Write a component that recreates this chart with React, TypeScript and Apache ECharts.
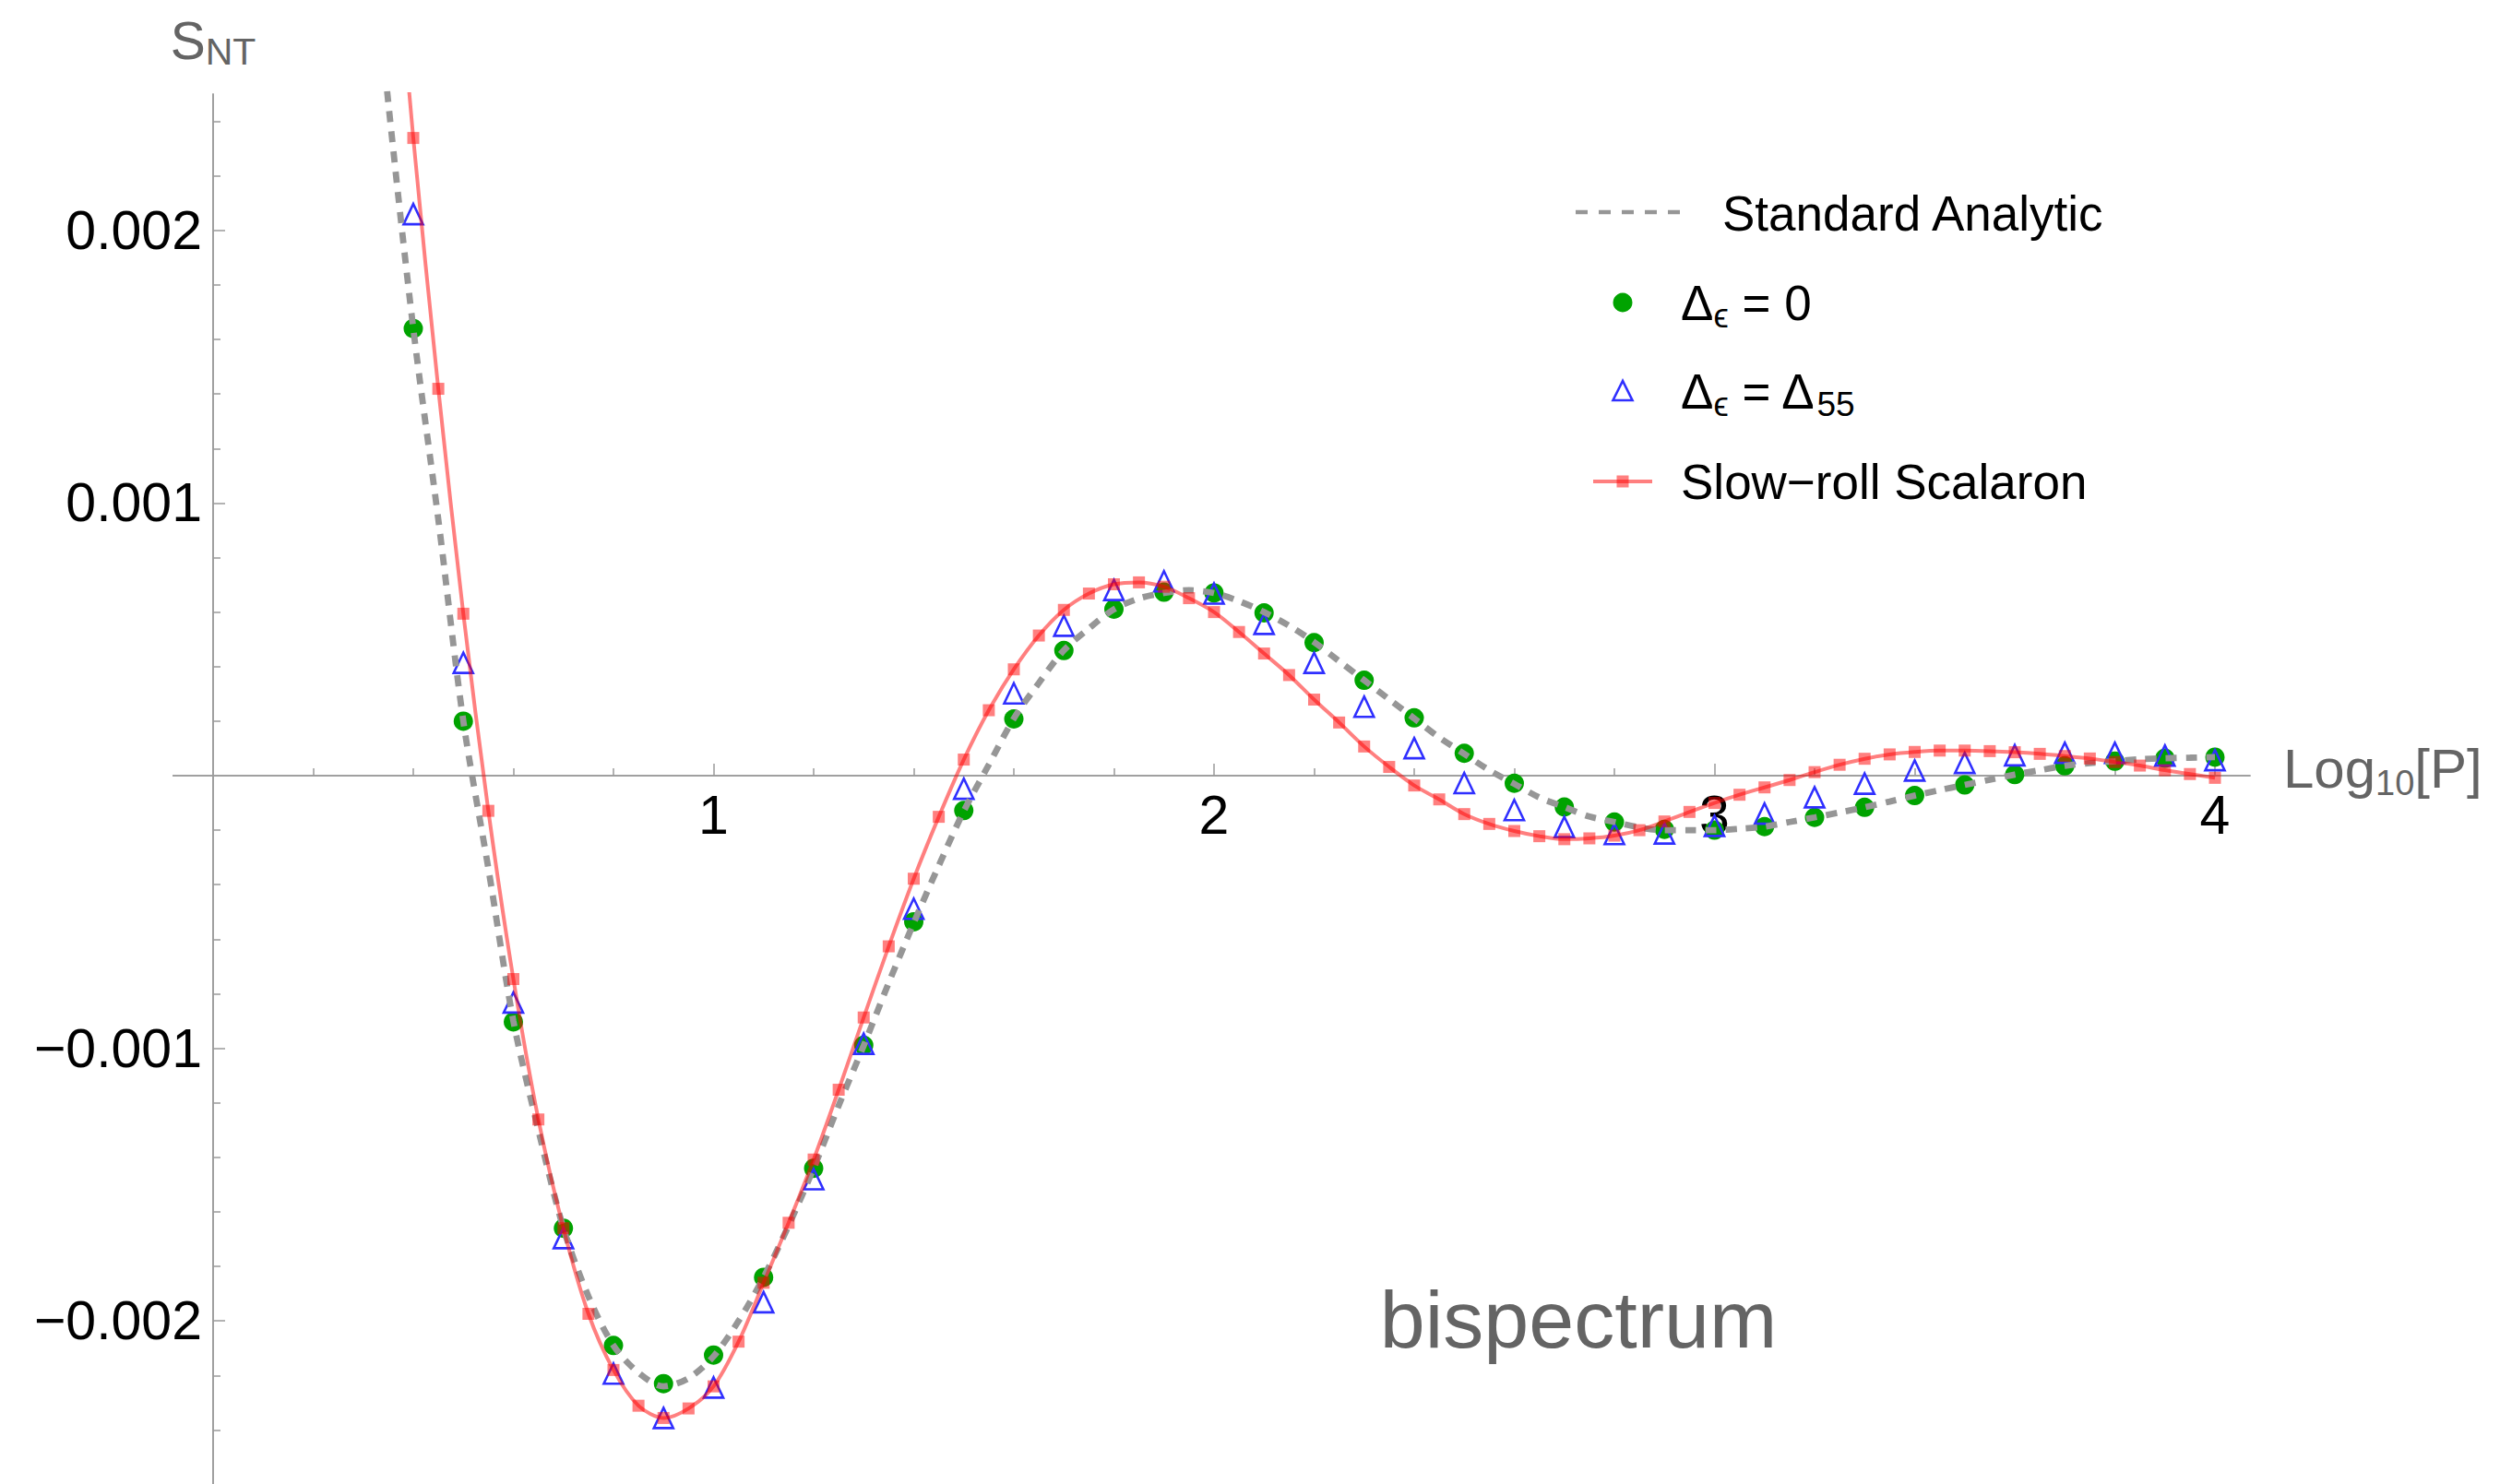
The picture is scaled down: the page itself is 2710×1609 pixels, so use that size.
import React, { useEffect, useRef } from "react";
import * as echarts from "echarts";

// ---------- data ----------
const X_POINTS = [
  0.4, 0.5, 0.6, 0.7, 0.8, 0.9, 1.0, 1.1, 1.2, 1.3, 1.4, 1.5, 1.6, 1.7, 1.8, 1.9, 2.0, 2.1, 2.2,
  2.3, 2.4, 2.5, 2.6, 2.7, 2.8, 2.9, 3.0, 3.1, 3.2, 3.3, 3.4, 3.5, 3.6, 3.7, 3.8, 3.9, 4.0,
];
const GREEN_VALUES = [
  0.00164, 0.0002, -0.000903, -0.00166, -0.00209, -0.00223, -0.002125, -0.00184, -0.00144,
  -0.000989, -0.000536, -0.000128, 0.000208, 0.000459, 0.000611, 0.000673, 0.00067, 0.000597,
  0.000488, 0.00035, 0.000212, 0.000082, -0.000028, -0.000115, -0.00017, -0.000197, -0.0002,
  -0.000187, -0.000153, -0.000116, -0.000073, -0.000034, 0.000004, 0.000036, 0.000053, 0.000064,
  0.000068,
];
const BLUE_VALUES = [
  0.00206, 0.000414, -0.000832, -0.001696, -0.002193, -0.002356, -0.002244, -0.001931, -0.00148,
  -0.000983, -0.000488, -0.000048, 0.000302, 0.00055, 0.000681, 0.000713, 0.000668, 0.000557,
  0.000414, 0.000253, 0.000101, -0.000027, -0.000126, -0.000188, -0.000214, -0.000212, -0.000184,
  -0.000139, -0.000079, -0.000029, 0.000019, 0.000047, 0.000075, 0.000084, 0.000084, 0.000074,
  0.000057,
];
const X_CURVE = [
  0.3, 0.35, 0.4, 0.45, 0.5, 0.55, 0.6, 0.65, 0.7, 0.75, 0.8, 0.85, 0.9, 0.95, 1.0, 1.05, 1.1,
  1.15, 1.2, 1.25, 1.3, 1.35, 1.4, 1.45, 1.5, 1.55, 1.6, 1.65, 1.7, 1.75, 1.8, 1.85, 1.9, 1.95,
  2.0, 2.05, 2.1, 2.15, 2.2, 2.25, 2.3, 2.35, 2.4, 2.45, 2.5, 2.55, 2.6, 2.65, 2.7, 2.75, 2.8,
  2.85, 2.9, 2.95, 3.0, 3.05, 3.1, 3.15, 3.2, 3.25, 3.3, 3.35, 3.4, 3.45, 3.5, 3.55, 3.6, 3.65,
  3.7, 3.75, 3.8, 3.85, 3.9, 3.95, 4.0,
];
const RED_VALUES = [
  0.0046, 0.0034, 0.002339, 0.001419, 0.000594, -0.000129, -0.000746, -0.001261, -0.00166,
  -0.001974, -0.00218, -0.002311, -0.002356, -0.002321, -0.00224, -0.002076, -0.00186, -0.00164,
  -0.001408, -0.001152, -0.000887, -0.000626, -0.000378, -0.000151, 0.000059, 0.00024, 0.00039,
  0.000514, 0.000608, 0.000668, 0.000702, 0.000709, 0.000693, 0.000651, 0.0006, 0.000527,
  0.000448, 0.000369, 0.000279, 0.000195, 0.000107, 0.000032, -0.000036, -0.000087, -0.000141,
  -0.000177, -0.000203, -0.000222, -0.000233, -0.00023, -0.00022, -0.0002, -0.000168, -0.000133,
  -0.0001, -0.00007, -0.000043, -0.000016, 0.000013, 0.00004, 0.000062, 0.000078, 0.000087,
  0.000092, 0.000092, 0.00009, 0.000086, 0.00008, 0.000072, 0.000063, 0.00005, 0.000037, 0.00002,
  0.000006, -0.000008,
];
const ANALYTIC_VALUES = [
  0.0034, 0.00247, 0.00164, 0.00094, 0.0002, -0.00034, -0.0009, -0.0013, -0.00166, -0.00191,
  -0.00209, -0.00219, -0.00224, -0.00221, -0.00213, -0.002, -0.00184, -0.00165, -0.00144,
  -0.00121, -0.00099, -0.00076, -0.00054, -0.00033, -0.00013, 0.00004, 0.00021, 0.00034, 0.00046,
  0.00054, 0.00061, 0.00065, 0.00067, 0.00068, 0.00067, 0.00064, 0.0006, 0.00055, 0.00049,
  0.00042, 0.00035, 0.00028, 0.00021, 0.00014, 0.00008, 0.00002, -0.00003, -0.00008, -0.000115,
  -0.00015, -0.00017, -0.00019, -0.0002, -0.0002, -0.0002, -0.000195, -0.000187, -0.00017,
  -0.000153, -0.000135, -0.000116, -0.000095, -0.000073, -0.000053, -0.000034, -0.000015,
  0.000004, 0.00002, 0.000036, 0.000046, 0.000053, 0.00006, 0.000064, 0.000066, 0.000068,
];
const X_MAJOR_TICKS = [1, 2, 3, 4];
const X_MINOR_TICKS = [0.2, 0.4, 0.6, 0.8, 1.2, 1.4, 1.6, 1.8, 2.2, 2.4, 2.6, 2.8, 3.2, 3.4, 3.6, 3.8];
const Y_MAJOR_TICKS = [-0.002, -0.001, 0.001, 0.002];
const Y_MINOR_TICKS = [
  -0.0024, -0.0022, -0.0018, -0.0016, -0.0014, -0.0012, -0.0008, -0.0006, -0.0004, -0.0002,
  0.0002, 0.0004, 0.0006, 0.0008, 0.0012, 0.0014, 0.0016, 0.0018, 0.0022, 0.0024,
];

// ---------- styles / layout ----------
const FONT = "'Liberation Sans', Arial, Helvetica, 'DejaVu Sans', sans-serif";
const AXIS_GRAY = "#9a9a9a";
const LABEL_GRAY = "#646464";
const DASH_GRAY = "#969696";
const GREEN = "#00a300";
const BLUE = "#2f2fff";
const RED_LINE = "rgba(255,0,0,0.5)";

const X_MIN = -0.08;
const X_MAX = 4.07;
const Y_MIN = -0.003;
const Y_MAX = 0.0025;
const PX_PER_X = 542.5;
const PX_PER_Y = 295600;
const GRID_LEFT = 187.6;
const GRID_TOP = 102;

// ECharts keeps tick labels at the grid edge when an axis sits on zero,
// so the label margins are shifted back to the zero lines.
const Y_LABEL_MARGIN = 12 - (0 - X_MIN) * PX_PER_X;
const X_LABEL_MARGIN = 13 - (0 - Y_MIN) * PX_PER_Y;

const LEGEND_FONT = 53;

const pairs = (xs: number[], ys: number[]) => xs.map((x, i) => [x, ys[i]]);

const legendRich = {
  m: { fontSize: LEGEND_FONT, lineHeight: 66, fill: "#000", fontFamily: FONT, verticalAlign: "middle" },
  s: { fontSize: 37, lineHeight: 32, fill: "#000", fontFamily: FONT, verticalAlign: "bottom" },
};

const legendTextStyle = (text: string, rich?: any) => ({
  text,
  rich,
  fontSize: LEGEND_FONT,
  fontFamily: FONT,
  fill: "#000",
  align: "left",
  verticalAlign: "middle",
  textAlign: "left",
  textVerticalAlign: "middle",
});

function buildOption() {
  const xAxisCommon = {
    type: "value",
    min: X_MIN,
    max: X_MAX,
    position: "bottom",
    splitLine: { show: false },
    minorTick: { show: false },
  };
  const yAxisCommon = {
    type: "value",
    min: Y_MIN,
    max: Y_MAX,
    position: "left",
    splitLine: { show: false },
    minorTick: { show: false },
  };
  return {
    animation: false,
    backgroundColor: "#ffffff",
    textStyle: { fontFamily: FONT },
    grid: {
      left: GRID_LEFT,
      top: GRID_TOP,
      width: (X_MAX - X_MIN) * PX_PER_X,
      height: (Y_MAX - Y_MIN) * PX_PER_Y,
      outerBoundsMode: "none",
      containLabel: false,
    },
    xAxis: [
      {
        ...xAxisCommon,
        axisLine: { show: true, onZero: true, lineStyle: { color: AXIS_GRAY, width: 1.5 } },
        axisTick: {
          show: true,
          inside: true,
          length: 13,
          customValues: X_MAJOR_TICKS,
          lineStyle: { color: AXIS_GRAY, width: 1.5 },
        },
        axisLabel: {
          show: true,
          customValues: X_MAJOR_TICKS,
          color: "#000",
          fontSize: 59,
          margin: X_LABEL_MARGIN,
          fontFamily: FONT,
          formatter: (v: number) => String(v),
        },
        name: "{m|Log}{sub|10}{m|[P]}",
        nameLocation: "end",
        nameGap: 36,
        nameTextStyle: {
          padding: [0, 0, 16, 0],
          rich: {
            m: { fontSize: 60, lineHeight: 70, color: LABEL_GRAY, fontFamily: FONT },
            sub: {
              fontSize: 38,
              lineHeight: 24,
              color: LABEL_GRAY,
              fontFamily: FONT,
              verticalAlign: "bottom",
            },
          },
        },
      },
      {
        ...xAxisCommon,
        axisLine: {
          show: true,
          onZero: true,
          onZeroAxisIndex: 0,
          lineStyle: { color: AXIS_GRAY, width: 1.5 },
        },
        axisTick: {
          show: true,
          inside: true,
          length: 8,
          customValues: X_MINOR_TICKS,
          lineStyle: { color: AXIS_GRAY, width: 1.5 },
        },
        axisLabel: { show: false },
      },
    ],
    yAxis: [
      {
        ...yAxisCommon,
        axisLine: { show: true, onZero: true, lineStyle: { color: AXIS_GRAY, width: 1.5 } },
        axisTick: {
          show: true,
          inside: true,
          length: 13,
          customValues: Y_MAJOR_TICKS,
          lineStyle: { color: AXIS_GRAY, width: 1.5 },
        },
        axisLabel: {
          show: true,
          customValues: Y_MAJOR_TICKS,
          color: "#000",
          fontSize: 59,
          margin: Y_LABEL_MARGIN,
          fontFamily: FONT,
          formatter: (v: number) =>
            v === 0 ? "" : (v < 0 ? "\u2212" : "") + Math.abs(v).toFixed(3),
        },
        name: "{s|S}{sub|NT}",
        nameLocation: "end",
        nameGap: 26,
        nameTextStyle: {
          rich: {
            s: { fontSize: 57, lineHeight: 64, color: LABEL_GRAY, fontFamily: FONT },
            sub: {
              fontSize: 41,
              lineHeight: 34,
              color: LABEL_GRAY,
              fontFamily: FONT,
              verticalAlign: "bottom",
            },
          },
        },
      },
      {
        ...yAxisCommon,
        axisLine: {
          show: true,
          onZero: true,
          onZeroAxisIndex: 0,
          lineStyle: { color: AXIS_GRAY, width: 1.5 },
        },
        axisTick: {
          show: true,
          inside: true,
          length: 8,
          customValues: Y_MINOR_TICKS,
          lineStyle: { color: AXIS_GRAY, width: 1.5 },
        },
        axisLabel: { show: false },
      },
    ],
    series: [
      {
        name: "Standard Analytic",
        type: "line",
        xAxisIndex: 0,
        yAxisIndex: 0,
        data: pairs(X_CURVE, ANALYTIC_VALUES),
        showSymbol: false,
        symbol: "none",
        smooth: 0.3,
        clip: true,
        lineStyle: { color: DASH_GRAY, width: 6.8, type: [12, 10], cap: "butt" },
      },
      {
        name: "Δϵ = 0",
        type: "scatter",
        xAxisIndex: 0,
        yAxisIndex: 0,
        data: pairs(X_POINTS, GREEN_VALUES),
        symbol: "circle",
        symbolSize: 21,
        clip: true,
        itemStyle: { color: GREEN, opacity: 1 },
      },
      {
        name: "Δϵ = Δ55",
        type: "scatter",
        xAxisIndex: 0,
        yAxisIndex: 0,
        data: pairs(X_POINTS, BLUE_VALUES),
        symbol: "triangle",
        symbolSize: [21, 22],
        clip: true,
        itemStyle: { color: "rgba(0,0,0,0)", borderColor: BLUE, borderWidth: 2.6, opacity: 1 },
      },
      {
        name: "Slow−roll Scalaron",
        type: "line",
        xAxisIndex: 0,
        yAxisIndex: 0,
        data: pairs(X_CURVE, RED_VALUES),
        smooth: 0.3,
        clip: true,
        showSymbol: true,
        showAllSymbol: true,
        symbol: "rect",
        symbolSize: 13,
        lineStyle: { color: RED_LINE, width: 4 },
        itemStyle: { color: RED_LINE, borderWidth: 0 },
      },
    ],
    graphic: [
      {
        type: "line",
        shape: { x1: 1708, y1: 230, x2: 1833, y2: 230 },
        style: { stroke: DASH_GRAY, lineWidth: 4.5, lineDash: [13, 12] },
        z: 10,
      },
      { type: "text", x: 1867, y: 231, z: 10, style: legendTextStyle("Standard Analytic") },
      { type: "circle", shape: { cx: 1759, cy: 328, r: 10.5 }, style: { fill: GREEN }, z: 10 },
      { type: "text", x: 1822, y: 328, z: 10, style: legendTextStyle("{m|Δ}{s|ϵ}{m| = 0}", legendRich) },
      {
        type: "polygon",
        shape: {
          points: [
            [1759, 413],
            [1748.5, 434],
            [1769.5, 434],
          ],
        },
        style: { fill: "none", stroke: BLUE, lineWidth: 2.6 },
        z: 10,
      },
      {
        type: "text",
        x: 1822,
        y: 424,
        z: 10,
        style: legendTextStyle("{m|Δ}{s|ϵ}{m| = Δ}{s|55}", legendRich),
      },
      {
        type: "line",
        shape: { x1: 1727, y1: 522, x2: 1791, y2: 522 },
        style: { stroke: RED_LINE, lineWidth: 4 },
        z: 10,
      },
      {
        type: "rect",
        shape: { x: 1752.5, y: 515.5, width: 13, height: 13 },
        style: { fill: RED_LINE },
        z: 10,
      },
      { type: "text", x: 1822, y: 522, z: 10, style: legendTextStyle("Slow\u2212roll Scalaron") },
      {
        type: "text",
        x: 1711,
        y: 1430,
        z: 10,
        style: {
          text: "bispectrum",
          fontSize: 88,
          fontFamily: FONT,
          fill: LABEL_GRAY,
          align: "center",
          verticalAlign: "middle",
          textAlign: "center",
          textVerticalAlign: "middle",
        },
      },
    ],
  };
}

export default function App() {
  const ref = useRef<HTMLDivElement | null>(null);
  useEffect(() => {
    if (!ref.current) return;
    const chart = echarts.init(ref.current, null, { renderer: "svg" });
    chart.setOption(buildOption() as any);
    return () => {
      chart.dispose();
    };
  }, []);
  return (
    <div
      ref={ref}
      style={{
        position: "absolute",
        left: 0,
        top: 0,
        width: "2710px",
        height: "1609px",
        background: "#fff",
      }}
    />
  );
}
